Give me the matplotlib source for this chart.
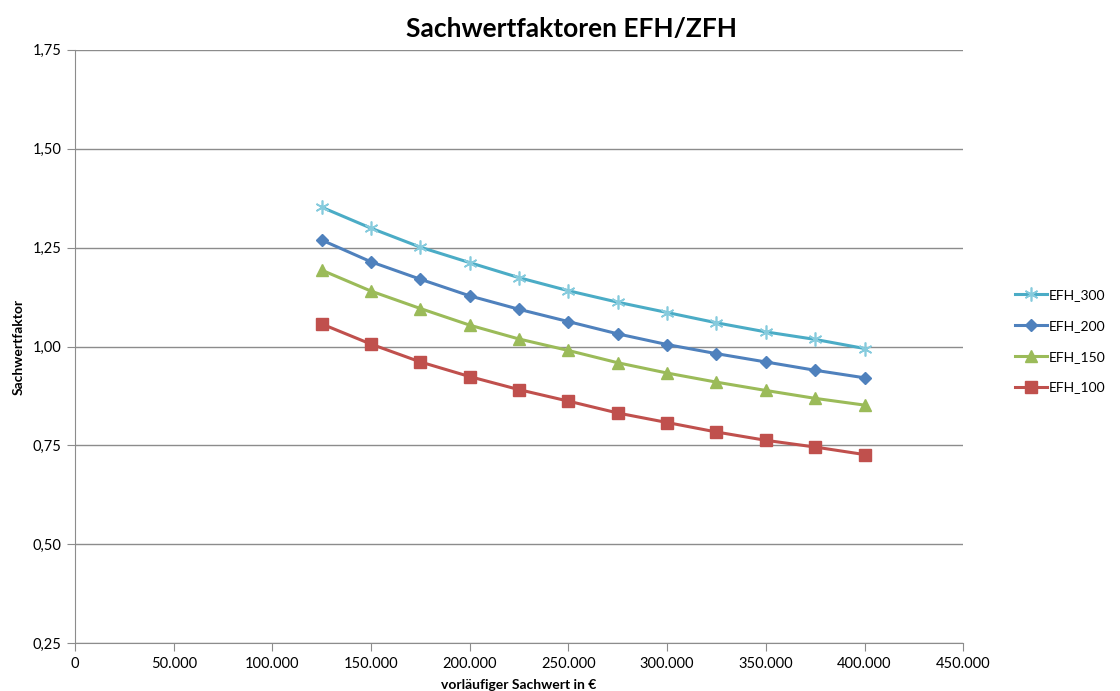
import matplotlib.pyplot as plt
from matplotlib.ticker import FuncFormatter

plt.rcParams['font.family'] = ['Lato', 'DejaVu Sans']

sachwert = [125000, 150000, 175000, 200000, 225000, 250000,
            275000, 300000, 325000, 350000, 375000, 400000]
efh_300 = [1.352, 1.299, 1.251, 1.212, 1.174, 1.141, 1.112, 1.086, 1.060, 1.037, 1.018, 0.995]
efh_200 = [1.269, 1.214, 1.170, 1.128, 1.094, 1.063, 1.032, 1.005, 0.982, 0.961, 0.940, 0.921]
efh_150 = [1.193, 1.140, 1.096, 1.054, 1.019, 0.990, 0.959, 0.933, 0.910, 0.889, 0.869, 0.852]
efh_100 = [1.057, 1.006, 0.961, 0.924, 0.891, 0.862, 0.832, 0.808, 0.784, 0.763, 0.746, 0.727]

fig = plt.figure(figsize=(11.2, 6.91), dpi=100)
ax = fig.add_axes([0.067, 0.069, 0.793, 0.859])

ax.plot(sachwert, efh_300, color='#4BACC6', lw=2.2, marker=(6, 2, 0), ms=10,
        mec='#86CBDD', mew=1.2, label='EFH_300')
ax.plot(sachwert, efh_200, color='#4F81BD', lw=2.2, marker='D', ms=6.5, label='EFH_200')
ax.plot(sachwert, efh_150, color='#9BBB59', lw=2.2, marker='^', ms=8, label='EFH_150')
ax.plot(sachwert, efh_100, color='#C0504D', lw=2.2, marker='s', ms=8, label='EFH_100')

ax.set_xlim(0, 450000)
ax.set_ylim(0.25, 1.75)
ax.set_xticks(range(0, 450001, 50000))
ax.set_yticks([0.25, 0.5, 0.75, 1.0, 1.25, 1.5, 1.75])
ax.xaxis.set_major_formatter(FuncFormatter(lambda v, p: f'{int(v):,}'.replace(',', '.')))
ax.yaxis.set_major_formatter(FuncFormatter(lambda v, p: f'{v:.2f}'.replace('.', ',')))

ax.yaxis.grid(True, color='#8C8C8C', lw=1)
ax.set_axisbelow(True)
for s in ['top', 'right']:
    ax.spines[s].set_visible(False)
for s in ['left', 'bottom']:
    ax.spines[s].set_color('#8C8C8C')
ax.tick_params(axis='both', colors='#8C8C8C', labelcolor='black', labelsize=10.5, length=6)

ax.set_xlabel('vorläufiger Sachwert in €', fontsize=10, fontweight='bold', labelpad=6)
ax.set_ylabel('Sachwertfaktor', fontsize=10, fontweight='bold', labelpad=6)
fig.suptitle('Sachwertfaktoren EFH/ZFH', x=0.51, y=0.975, fontsize=19, fontweight='bold')

ax.legend(loc='center left', bbox_to_anchor=(0.898, 0.506), bbox_transform=fig.transFigure,
          frameon=False, fontsize=10, handlelength=2.3, labelspacing=1.35, handletextpad=0.1,
          borderpad=0.2)

fig.savefig('out.png', dpi=100)
